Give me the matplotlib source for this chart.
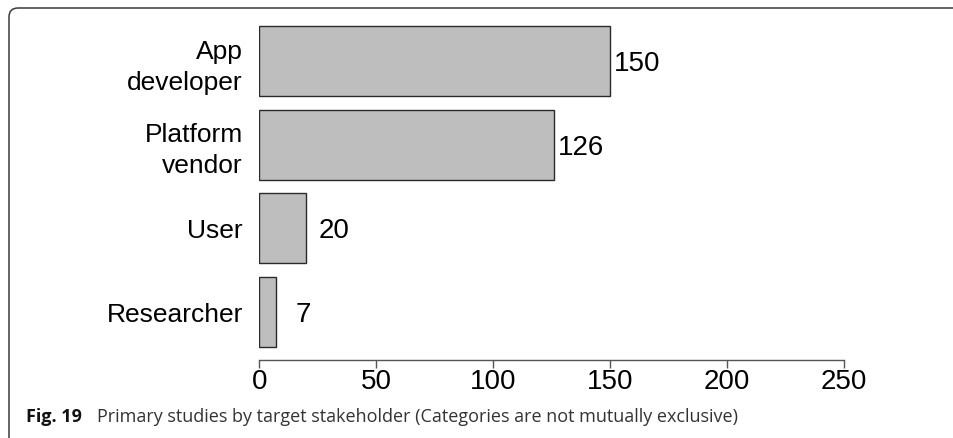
import matplotlib.pyplot as plt
from matplotlib.path import Path
from matplotlib.patches import PathPatch

# data
stakeholders = ["App\ndeveloper", "Platform\nvendor", "User", "Researcher"]
counts = [150, 126, 20, 7]
xticks = [0, 50, 100, 150, 200, 250]

W, H = 954, 438
fig = plt.figure(figsize=(W / 100, H / 100), dpi=100)

# frame with rounded top-left corner, drawn in pixel units
frame = fig.add_axes([0, 0, 1, 1])
frame.set_xlim(0, W)
frame.set_ylim(H, 0)
frame.axis("off")
r = 9
verts = [(9, H + 5), (9, 8 + r), (9, 8), (9 + r, 8), (W + 5, 8)]
codes = [Path.MOVETO, Path.LINETO, Path.CURVE3, Path.CURVE3, Path.LINETO]
frame.add_patch(PathPatch(Path(verts, codes), fill=False, edgecolor="#3a3a3a", lw=1.1))

# main axes
left, right = 259.5, 843.5
top, bottom = 20, 360
ax = fig.add_axes([left / W, (H - bottom) / H, (right - left) / W, (bottom - top) / H])
pos = list(range(len(counts)))
ax.barh(pos, counts, height=0.836, color="#bebebe", edgecolor="#2a2a2a", linewidth=1)
ax.set_xlim(0, 250)
ax.set_ylim(3.572, -0.49)

# value labels, digits centred on the bar
for y, v in zip(pos, counts):
    ax.annotate(str(v), (v, y), xytext=(19.8, -7.2), textcoords="offset points",
                ha="center", va="baseline", fontsize=20, family="Liberation Sans")

ax.set_yticks(pos)
ax.set_yticklabels(stakeholders, fontsize=19, family="Liberation Sans",
                   linespacing=1.38)
ax.tick_params(axis="y", length=0, pad=12)
ax.set_xticks(xticks)
ax.set_xticklabels([str(t) for t in xticks], fontsize=20, family="Liberation Sans")
ax.tick_params(axis="x", length=6, width=1, color="#555555", pad=0.5)

for s in ["top", "right", "left"]:
    ax.spines[s].set_visible(False)
ax.spines["bottom"].set_color("#555555")
ax.spines["bottom"].set_linewidth(1)

# caption
fig.text(26 / W, 1 - 422 / H, "Fig. 19", fontsize=13, fontweight="bold",
         family="Open Sans", color="#111111", va="baseline")
fig.text(97 / W, 1 - 422 / H,
         "Primary studies by target stakeholder (Categories are not mutually exclusive)",
         fontsize=13, family="Open Sans", color="#333333", va="baseline")

fig.savefig("out.png", dpi=100)
